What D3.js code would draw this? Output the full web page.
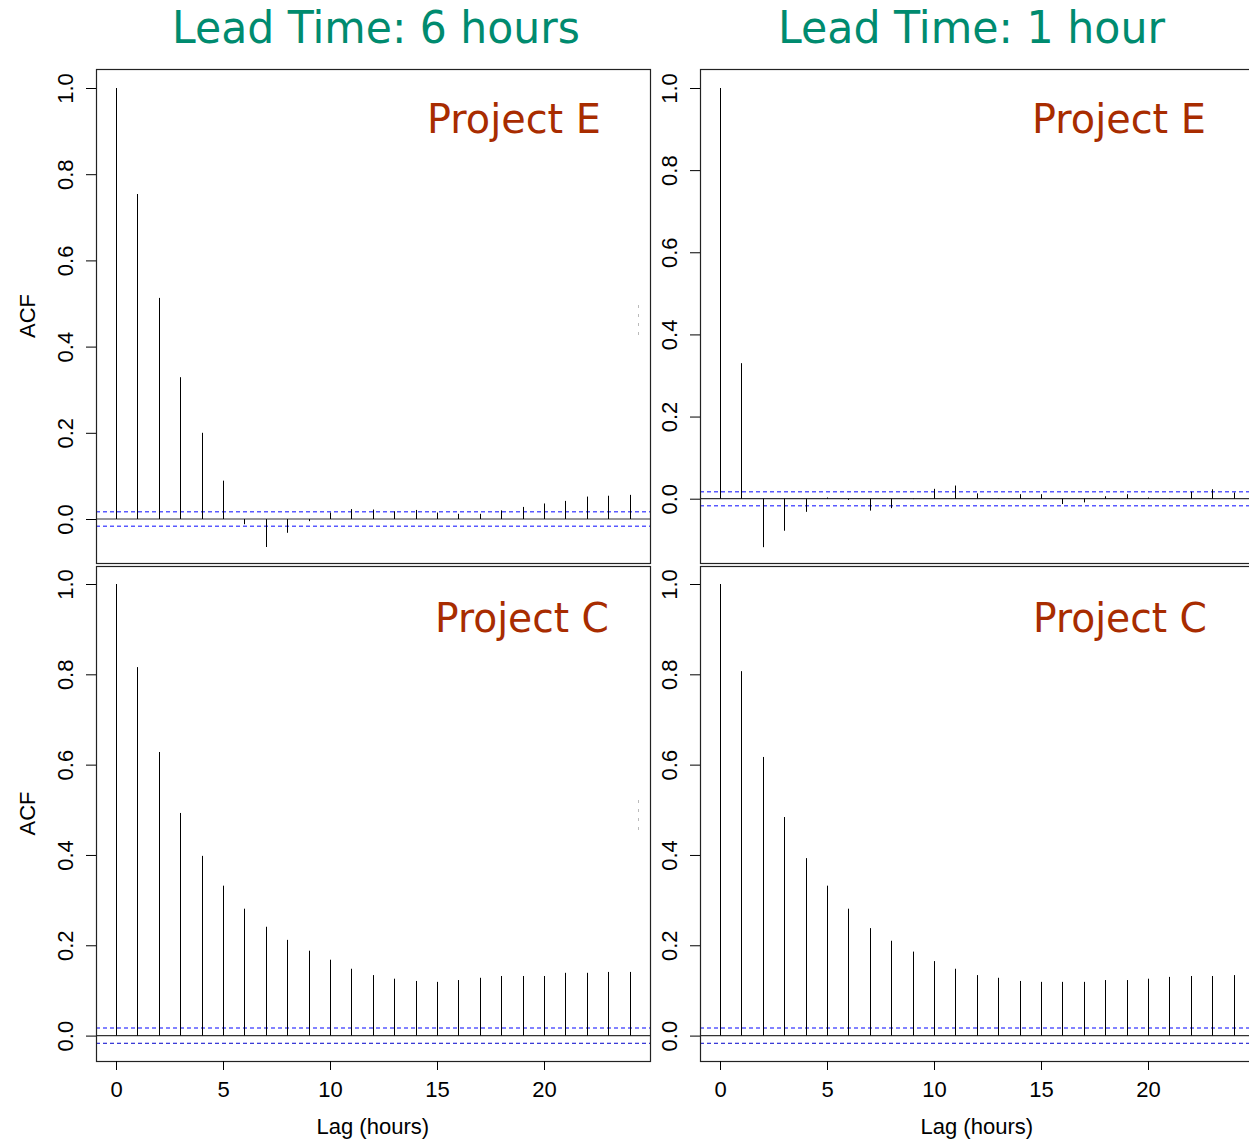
<!DOCTYPE html>
<html>
<head>
<meta charset="utf-8">
<script src="https://cdn.jsdelivr.net/npm/d3@7"></script>
<style>
  body { margin: 0; background: #fff; }
  svg { display: block; }
</style>
</head>
<body>
<div id="chart"></div>
<script>
// ACF values, lags 0..24
const lags = [0, 1, 2, 3, 4, 5, 6, 7, 8, 9, 10, 11, 12, 13, 14, 15, 16, 17, 18, 19, 20, 21, 22, 23, 24];
const acfSixHourE = [1.0, 0.754, 0.513, 0.329, 0.200, 0.089, -0.012, -0.065, -0.032, -0.005, 0.015, 0.023, 0.022, 0.018, 0.021, 0.015, 0.012, 0.012, 0.020, 0.028, 0.036, 0.042, 0.052, 0.054, 0.056];
const acfOneHourE = [1.0, 0.330, -0.118, -0.078, -0.032, 0.003, -0.003, -0.029, -0.023, -0.001, 0.024, 0.032, 0.013, 0.001, 0.011, 0.011, -0.013, -0.009, 0.006, 0.011, 0.003, 0.001, 0.017, 0.023, 0.015];
const acfSixHourC = [1.0, 0.816, 0.628, 0.493, 0.398, 0.332, 0.281, 0.241, 0.212, 0.188, 0.168, 0.148, 0.134, 0.126, 0.121, 0.119, 0.123, 0.128, 0.132, 0.132, 0.132, 0.139, 0.139, 0.141, 0.141];
const acfOneHourC = [1.0, 0.807, 0.617, 0.484, 0.393, 0.332, 0.281, 0.238, 0.210, 0.186, 0.165, 0.148, 0.134, 0.128, 0.121, 0.119, 0.119, 0.119, 0.123, 0.123, 0.126, 0.130, 0.132, 0.132, 0.134];
const confBound = 0.017;
const yTicks = [0, 0.2, 0.4, 0.6, 0.8, 1.0];
const xTicks = [0, 5, 10, 15, 20];
const columnTitles = ["Lead Time: 6 hours", "Lead Time: 1 hour"];
const projectNames = ["Project E", "Project C"];

const W = 1249, H = 1140;
const titleColor = "#008b6f";
const projectColor = "#a82c00";
const tickFont = "'Liberation Sans', Arial, sans-serif";
const titleFont = "'DejaVu Sans', Verdana, sans-serif";

const svg = d3.select("#chart").append("svg")
    .attr("width", W)
    .attr("height", H);

// panel layout (box edges and where 0 / 1 sit on the y axis)
const panels = [
    { values: acfSixHourE, name: projectNames[0], box: [96, 69, 650, 563], xr: [116, 544], y0: 519, y1: 88, nameEnd: 601, nameY: 133, ylab: true, xaxis: false, darkLower: false },
    { values: acfOneHourE, name: projectNames[0], box: [700, 69, 1262, 563], xr: [720, 1148], y0: 498.7, y1: 88, nameEnd: 1206, nameY: 133, ylab: false, xaxis: false, darkLower: false },
    { values: acfSixHourC, name: projectNames[1], box: [96, 566, 650, 1061], xr: [116, 544], y0: 1035.6, y1: 584, nameEnd: 609, nameY: 632, ylab: true, xaxis: true, darkLower: true },
    { values: acfOneHourC, name: projectNames[1], box: [700, 566, 1262, 1061], xr: [720, 1148], y0: 1035.6, y1: 584, nameEnd: 1207, nameY: 632, ylab: false, xaxis: true, darkLower: true }
];

panels.forEach(p => {
    const [bx0, by0, bx1, by1] = p.box;
    const x = d3.scaleLinear().domain([0, 20]).range(p.xr);
    const y = d3.scaleLinear().domain([0, 1]).range([p.y0, p.y1]);
    const g = svg.append("g");

    // confidence bounds
    g.append("line")
        .attr("x1", bx0).attr("x2", bx1)
        .attr("y1", y(confBound)).attr("y2", y(confBound))
        .attr("stroke", "#5a5aff").attr("stroke-width", 1.5)
        .attr("stroke-dasharray", "4,3");
    g.append("line")
        .attr("x1", bx0).attr("x2", bx1)
        .attr("y1", y(-confBound)).attr("y2", y(-confBound))
        .attr("stroke", p.darkLower ? "#0000cc" : "#5a5aff")
        .attr("stroke-width", p.darkLower ? 1 : 1.5)
        .attr("stroke-dasharray", "4,3");

    // zero line
    g.append("line")
        .attr("x1", bx0).attr("x2", bx1)
        .attr("y1", y(0)).attr("y2", y(0))
        .attr("stroke", "#333").attr("stroke-width", 1.2);

    // spikes
    g.selectAll("line.spike")
        .data(lags.map((l, i) => ({ lag: l, v: p.values[i] })))
        .enter().append("line")
        .attr("class", "spike")
        .attr("x1", d => Math.round(x(d.lag)) + 0.5)
        .attr("x2", d => Math.round(x(d.lag)) + 0.5)
        .attr("y1", y(0))
        .attr("y2", d => y(d.v))
        .attr("stroke", "#000").attr("stroke-width", 1);

    // box
    g.append("rect")
        .attr("x", bx0 + 0.5).attr("y", by0 + 0.5)
        .attr("width", bx1 - bx0).attr("height", by1 - by0)
        .attr("fill", "none").attr("stroke", "#222").attr("stroke-width", 1.2);

    // y axis
    const ya = g.append("g")
        .attr("transform", `translate(${bx0},0)`)
        .call(d3.axisLeft(y).tickValues(yTicks).tickSize(10).tickFormat(d3.format(".1f")));
    ya.select(".domain").remove();
    ya.selectAll(".tick line").attr("stroke", "#000");
    ya.selectAll(".tick text")
        .attr("transform", "rotate(-90)")
        .attr("x", 0).attr("y", -23).attr("dy", 0)
        .attr("text-anchor", "middle")
        .attr("fill", "#000")
        .style("font-family", tickFont).style("font-size", "22px");

    if (p.ylab) {
        g.append("text")
            .attr("transform", `translate(35,${(by0 + by1) / 2}) rotate(-90)`)
            .attr("text-anchor", "middle")
            .style("font-family", tickFont).style("font-size", "22px")
            .text("ACF");
    }

    if (p.xaxis) {
        const xa = g.append("g")
            .attr("transform", `translate(0,${by1})`)
            .call(d3.axisBottom(x).tickValues(xTicks).tickSize(9).tickFormat(d3.format("d")));
        xa.select(".domain").remove();
        xa.selectAll(".tick line").attr("stroke", "#000");
        xa.selectAll(".tick text")
            .attr("y", 36).attr("dy", 0)
            .attr("fill", "#000")
            .style("font-family", tickFont).style("font-size", "22px");
        g.append("text")
            .attr("x", x(12.0)).attr("y", 1134)
            .attr("text-anchor", "middle")
            .style("font-family", tickFont).style("font-size", "22px")
            .text("Lag (hours)");
    }

    // project label
    g.append("text")
        .attr("x", p.nameEnd).attr("y", p.nameY)
        .attr("text-anchor", "end")
        .attr("fill", projectColor)
        .attr("textLength", 174).attr("lengthAdjust", "spacingAndGlyphs")
        .style("font-family", titleFont).style("font-size", "41px")
        .text(p.name);
});

// column titles
svg.append("text")
    .attr("x", 172).attr("y", 43)
    .attr("fill", titleColor)
    .attr("textLength", 408).attr("lengthAdjust", "spacingAndGlyphs")
    .style("font-family", titleFont).style("font-size", "45px")
    .text(columnTitles[0]);
svg.append("text")
    .attr("x", 778).attr("y", 43)
    .attr("fill", titleColor)
    .attr("textLength", 387).attr("lengthAdjust", "spacingAndGlyphs")
    .style("font-family", titleFont).style("font-size", "45px")
    .text(columnTitles[1]);

// faint cropped leftovers to the right of the left panels
[[305, 340], [800, 835]].forEach(([a, b]) => {
    svg.append("line")
        .attr("x1", 638.5).attr("x2", 638.5)
        .attr("y1", a).attr("y2", b)
        .attr("stroke", "#bbb").attr("stroke-dasharray", "3,6");
});
</script>
</body>
</html>
